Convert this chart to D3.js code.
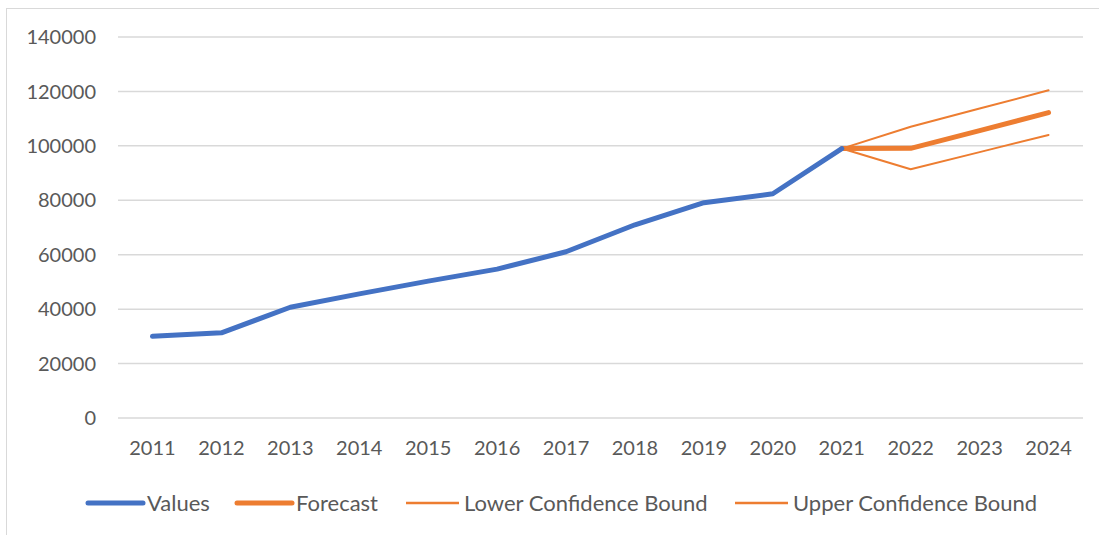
<!DOCTYPE html>
<html>
<head>
<meta charset="utf-8">
<script src="https://cdn.jsdelivr.net/npm/d3@7"></script>
<style>
  body { margin: 0; background: #fff; }
  text { font-family: Lato, "Open Sans", sans-serif; fill: #595959; }
</style>
</head>
<body>
<script>
// chart data
let years = ["2011", "2012", "2013", "2014", "2015", "2016", "2017", "2018", "2019", "2020", "2021", "2022", "2023", "2024"];
let values = [30000, 31300, 40700, 45600, 50300, 54700, 61100, 71000, 79100, 82400, 99000, null, null, null];
let forecast = [null, null, null, null, null, null, null, null, null, null, 99000, 99100, 105600, 112200];
let lowerBound = [null, null, null, null, null, null, null, null, null, null, 99000, 91400, 97700, 104000];
let upperBound = [null, null, null, null, null, null, null, null, null, null, 99000, 107000, 113700, 120400];
let yTicks = [0, 20000, 40000, 60000, 80000, 100000, 120000, 140000];

let width = 1099;
let height = 535;
let margin = { left: 118, right: 16, top: 37, bottom: 117 };

let svg = d3.select("body")
    .append("svg")
    .attr("width", width)
    .attr("height", height);

// outer chart border
svg.append("rect")
    .attr("x", 6.5)
    .attr("y", 8.5)
    .attr("width", width + 10)
    .attr("height", height + 10)
    .style("fill", "none")
    .style("stroke", "#d9d9d9")
    .style("stroke-width", 1);

let x = d3.scaleBand()
    .domain(years)
    .range([margin.left, width - margin.right]);

let y = d3.scaleLinear()
    .domain([0, 140000])
    .range([height - margin.bottom, margin.top]);

// gridlines
svg.selectAll("line.grid")
    .data(yTicks)
    .enter()
    .append("line")
    .attr("class", "grid")
    .attr("x1", margin.left)
    .attr("x2", width - margin.right)
    .attr("y1", d => y(d))
    .attr("y2", d => y(d))
    .style("stroke", "#d9d9d9")
    .style("stroke-width", 1.5);

// y labels
svg.selectAll("text.ylab")
    .data(yTicks)
    .enter()
    .append("text")
    .attr("class", "ylab")
    .attr("x", 96)
    .attr("y", d => y(d))
    .attr("dy", "0.36em")
    .attr("text-anchor", "end")
    .style("font-size", "20px")
    .text(d => d);

// x labels
svg.selectAll("text.xlab")
    .data(years)
    .enter()
    .append("text")
    .attr("class", "xlab")
    .attr("x", d => x(d) + x.bandwidth() / 2)
    .attr("y", 448)
    .attr("dy", "0.36em")
    .attr("text-anchor", "middle")
    .style("font-size", "20px")
    .text(d => d);

let series = [
    { name: "Values", data: values, color: "#4472c4", w: 5, lx: 88 },
    { name: "Forecast", data: forecast, color: "#ed7d31", w: 5, lx: 237 },
    { name: "Lower Confidence Bound", data: lowerBound, color: "#ed7d31", w: 2, lx: 406 },
    { name: "Upper Confidence Bound", data: upperBound, color: "#ed7d31", w: 2, lx: 735 }
];

let line = d3.line()
    .defined(d => d != null)
    .x((d, i) => x(years[i]) + x.bandwidth() / 2)
    .y(d => y(d));

// draw bounds first, then forecast, then values
[2, 3, 1, 0].forEach(function(k) {
    let s = series[k];
    svg.append("path")
        .attr("d", line(s.data))
        .style("fill", "none")
        .style("stroke", s.color)
        .style("stroke-width", s.w)
        .style("stroke-linecap", "round")
        .style("stroke-linejoin", "round");
});

// legend
let legend = svg.selectAll("g.legend")
    .data(series)
    .enter()
    .append("g")
    .attr("class", "legend")
    .attr("transform", d => "translate(" + d.lx + ",503)");

legend.append("line")
    .attr("x1", 0)
    .attr("x2", d => d.w > 3 ? 55 : 53)
    .style("stroke", d => d.color)
    .style("stroke-width", d => d.w > 3 ? 5 : 2.5)
    .style("stroke-linecap", d => d.w > 3 ? "round" : "butt");

legend.append("text")
    .attr("x", d => d.w > 3 ? 59 : 58)
    .attr("dy", "0.36em")
    .style("font-size", "22px")
    .text(d => d.name);
</script>
</body>
</html>
